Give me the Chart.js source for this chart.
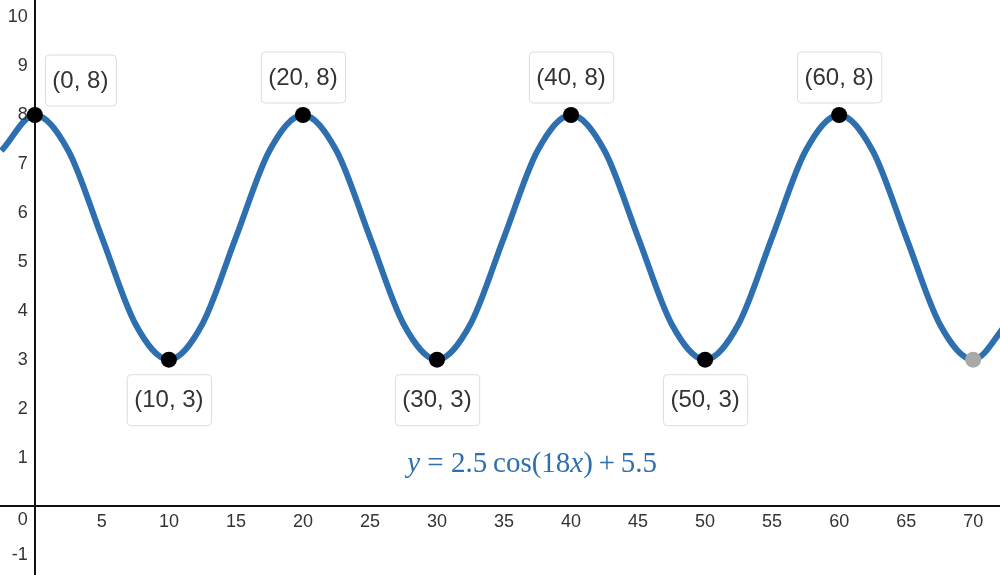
<!DOCTYPE html>
<html>
<head>
<meta charset="utf-8">
<script src="https://cdn.jsdelivr.net/npm/chart.js@4.4.1/dist/chart.umd.min.js"></script>
<style>
  html, body { margin: 0; padding: 0; background: #fff; }
  #wrap { width: 1000px; height: 575px; }
</style>
</head>
<body>
<div id="wrap"><canvas id="chart"></canvas></div>
<script>
// curve every 2.5 units
const curveX = [-2.5, 0, 2.5, 5, 7.5, 10, 12.5, 15, 17.5, 20, 22.5, 25, 27.5, 30, 32.5, 35,
  37.5, 40, 42.5, 45, 47.5, 50, 52.5, 55, 57.5, 60, 62.5, 65, 67.5, 70, 72.5];
const curveY = [7.27, 8, 7.27, 5.5, 3.73, 3, 3.73, 5.5, 7.27, 8, 7.27, 5.5, 3.73, 3, 3.73, 5.5,
  7.27, 8, 7.27, 5.5, 3.73, 3, 3.73, 5.5, 7.27, 8, 7.27, 5.5, 3.73, 3, 3.73];

const keyX = [0, 10, 20, 30, 40, 50, 60];
const keyY = [8, 3, 8, 3, 8, 3, 8];
const keyLabels = ['(0, 8)', '(10, 3)', '(20, 8)', '(30, 3)', '(40, 8)', '(50, 3)', '(60, 8)'];
const endX = [70];
const endY = [3];

const blue = '#2e6fb0';
const sans = 'Liberation Sans, Arial, sans-serif';
const tickFont = { family: sans, size: 18 };

// object-positioned axes should not eat into the plot area
const noPad = scale => {
  scale.paddingLeft = scale.paddingRight = scale.paddingTop = scale.paddingBottom = 0;
};

const overlay = {
  id: 'overlay',
  afterDraw(chart) {
    const ctx = chart.ctx;
    const xs = chart.scales.x, ys = chart.scales.y;
    const ox = xs.getPixelForValue(0), oy = ys.getPixelForValue(0);
    ctx.save();

    // y tick labels, left of the axis line
    ctx.font = '18px ' + sans;
    ctx.fillStyle = '#333';
    ctx.textAlign = 'right';
    ctx.textBaseline = 'middle';
    ys.ticks.forEach(t => {
      const py = t.value === 0 ? oy + 14 : ys.getPixelForValue(t.value);
      ctx.fillText(String(t.value), ox - 7, py);
    });

    // point labels
    ctx.font = '24px ' + sans;
    ctx.textAlign = 'center';
    keyLabels.forEach((txt, i) => {
      const px = xs.getPixelForValue(keyX[i]);
      const py = ys.getPixelForValue(keyY[i]);
      const w = ctx.measureText(txt).width + 15;
      const h = 51;
      let cx = px, cy;
      if (keyX[i] === 0) { cx = px + 10 + w / 2; cy = py - 35; }
      else if (keyY[i] > 5.5) cy = py - 38;
      else cy = py + 40;
      ctx.beginPath();
      ctx.roundRect(cx - w / 2 + 0.5, cy - h / 2 + 0.5, w, h, 4);
      ctx.fillStyle = '#fff';
      ctx.fill();
      ctx.strokeStyle = '#dcdcdc';
      ctx.lineWidth = 1;
      ctx.stroke();
      ctx.fillStyle = '#333';
      ctx.fillText(txt, cx, cy + 1);
    });

    // equation
    const parts = [
      ['y', true], [' = 2.5\u2009cos', false], ['(', false], ['18', false],
      ['x', true], [')', false], ['\u2009+\u20095.5', false]
    ];
    const size = 29;
    const font = it => (it ? 'italic ' : '') + size + 'px Liberation Serif, Times New Roman, serif';
    let total = 0;
    parts.forEach(p => { ctx.font = font(p[1]); total += ctx.measureText(p[0]).width; });
    let x = xs.getPixelForValue(37.1) - total / 2;
    const base = ys.getPixelForValue(0.7);
    ctx.fillStyle = blue;
    ctx.textAlign = 'left';
    ctx.textBaseline = 'alphabetic';
    parts.forEach(p => {
      ctx.font = font(p[1]);
      ctx.fillText(p[0], x, base);
      x += ctx.measureText(p[0]).width;
    });
    ctx.restore();
  }
};

new Chart(document.getElementById('chart'), {
  type: 'scatter',
  data: {
    datasets: [
      {
        data: keyX.map((x, i) => ({ x, y: keyY[i] })),
        pointRadius: 8,
        pointBackgroundColor: '#000',
        pointBorderWidth: 0
      },
      {
        data: endX.map((x, i) => ({ x, y: endY[i] })),
        pointRadius: 8,
        pointBackgroundColor: '#a8a8a8',
        pointBorderWidth: 0
      },
      {
        data: curveX.map((x, i) => ({ x, y: curveY[i] })),
        showLine: true,
        borderColor: blue,
        borderWidth: 6,
        pointRadius: 0,
        cubicInterpolationMode: 'monotone'
      }
    ]
  },
  options: {
    responsive: true,
    maintainAspectRatio: false,
    animation: false,
    layout: { padding: 0, autoPadding: false },
    plugins: { legend: { display: false }, tooltip: { enabled: false } },
    scales: {
      x: {
        type: 'linear',
        min: -2.6,
        max: 72,
        position: { y: 0 },
        afterFit: noPad,
        grid: { display: false, drawTicks: false },
        border: { color: '#111', width: 2 },
        ticks: {
          stepSize: 5,
          includeBounds: false,
          padding: 5,
          color: '#333',
          font: tickFont,
          maxRotation: 0,
          callback: v => (v === 0 ? '' : v)
        }
      },
      y: {
        type: 'linear',
        min: -1.4,
        max: 10.35,
        position: { x: 0 },
        afterFit: noPad,
        grid: { display: false, drawTicks: false },
        border: { color: '#111', width: 2 },
        ticks: {
          stepSize: 1,
          includeBounds: false,
          color: 'rgba(0,0,0,0)',
          font: tickFont
        }
      }
    }
  },
  plugins: [overlay]
});
</script>
</body>
</html>
